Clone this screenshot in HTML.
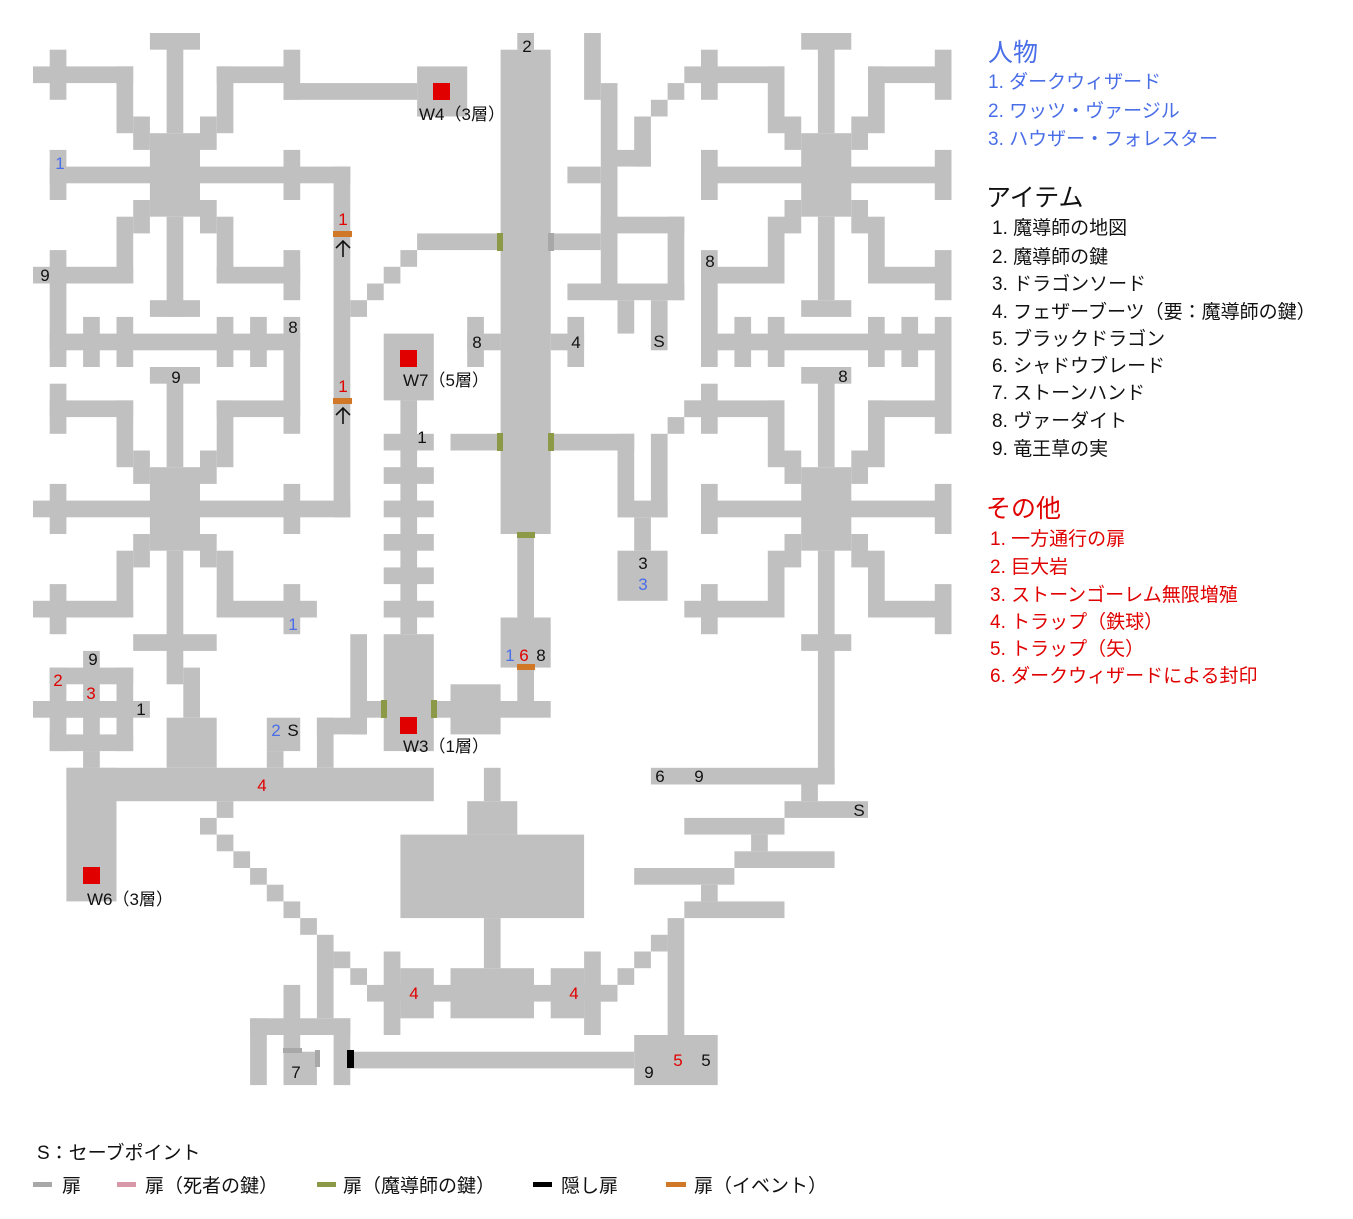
<!DOCTYPE html>
<html><head><meta charset="utf-8"><style>
html,body{margin:0;padding:0;background:#fff;}
svg{display:block;}
text{font-family:"Liberation Sans","Noto Sans CJK JP",sans-serif;}
</style></head><body>
<svg width="1353" height="1219" viewBox="0 0 1353 1219" xmlns="http://www.w3.org/2000/svg">
<rect width="1353" height="1219" fill="#fff"/>
<g transform="translate(33 33) scale(16.7)" fill="#c0c0c0">
<rect x="7" y="0" width="3" height="1"/><rect x="8" y="0" width="1" height="6"/><rect x="7" y="6" width="3" height="5"/>
<rect x="6" y="5" width="1" height="2"/><rect x="10" y="5" width="1" height="2"/>
<rect x="5" y="2" width="1" height="4"/><rect x="11" y="2" width="1" height="4"/>
<rect x="0" y="2" width="6" height="1"/><rect x="1" y="1" width="1" height="3"/>
<rect x="11" y="2" width="4" height="1"/><rect x="15" y="1" width="1" height="3"/>
<rect x="15" y="3" width="8" height="1"/><rect x="23" y="2" width="3" height="3"/>
<rect x="1" y="8" width="18" height="1"/><rect x="1" y="7" width="1" height="3"/><rect x="15" y="7" width="1" height="3"/>
<rect x="18" y="8" width="1" height="21"/>
<rect x="6" y="10" width="1" height="2"/><rect x="10" y="10" width="1" height="2"/>
<rect x="5" y="11" width="1" height="4"/><rect x="11" y="11" width="1" height="4"/>
<rect x="0" y="14" width="6" height="1"/><rect x="1" y="13" width="1" height="7"/>
<rect x="11" y="14" width="5" height="1"/><rect x="15" y="13" width="1" height="3"/>
<rect x="8" y="11" width="1" height="6"/><rect x="7" y="16" width="3" height="1"/>
<rect x="1" y="18" width="15" height="1"/><rect x="3" y="17" width="1" height="3"/><rect x="5" y="17" width="1" height="3"/>
<rect x="11" y="17" width="1" height="3"/><rect x="13" y="17" width="1" height="3"/><rect x="15" y="17" width="1" height="7"/>
<rect x="7" y="20" width="3" height="1"/><rect x="8" y="20" width="1" height="6"/>
<rect x="1" y="21" width="1" height="3"/><rect x="1" y="22" width="5" height="1"/><rect x="5" y="22" width="1" height="4"/>
<rect x="6" y="25" width="1" height="2"/><rect x="7" y="26" width="3" height="5"/><rect x="10" y="25" width="1" height="2"/>
<rect x="11" y="22" width="1" height="4"/><rect x="11" y="22" width="5" height="1"/>
<rect x="0" y="28" width="19" height="1"/><rect x="1" y="27" width="1" height="3"/><rect x="15" y="27" width="1" height="3"/>
<rect x="6" y="30" width="1" height="2"/><rect x="10" y="30" width="1" height="2"/>
<rect x="5" y="31" width="1" height="4"/><rect x="11" y="31" width="1" height="4"/>
<rect x="0" y="34" width="6" height="1"/><rect x="1" y="33" width="1" height="3"/>
<rect x="11" y="34" width="6" height="1"/><rect x="15" y="33" width="1" height="3"/>
<rect x="8" y="31" width="1" height="8"/><rect x="6" y="36" width="5" height="1"/>
<rect x="9" y="38" width="1" height="3"/><rect x="8" y="41" width="3" height="3"/>
<rect x="1" y="38" width="5" height="1"/><rect x="1" y="40" width="5" height="1"/><rect x="1" y="42" width="5" height="1"/>
<rect x="1" y="38" width="1" height="5"/><rect x="3" y="38" width="1" height="5"/><rect x="5" y="38" width="1" height="5"/>
<rect x="0" y="40" width="7" height="1"/><rect x="3" y="37" width="1" height="1"/><rect x="3" y="43" width="1" height="1"/>
<rect x="2" y="44" width="22" height="2"/><rect x="2" y="44" width="3" height="8"/>
<rect x="14" y="41" width="2" height="2"/><rect x="14" y="43" width="1" height="1"/>
<rect x="17" y="41" width="1" height="3"/><rect x="17" y="41" width="3" height="1"/><rect x="19" y="36" width="1" height="6"/><rect x="20" y="40" width="1" height="1"/>
<rect x="11" y="46" width="1" height="1"/><rect x="10" y="47" width="1" height="1"/><rect x="11" y="48" width="1" height="1"/>
<rect x="12" y="49" width="1" height="1"/><rect x="13" y="50" width="1" height="1"/><rect x="14" y="51" width="1" height="1"/>
<rect x="15" y="52" width="1" height="1"/><rect x="16" y="53" width="1" height="1"/><rect x="17" y="54" width="1" height="5"/>
<rect x="13" y="59" width="6" height="1"/><rect x="13" y="59" width="1" height="4"/><rect x="15" y="57" width="1" height="4"/>
<rect x="15" y="61" width="2" height="2"/><rect x="18" y="59" width="1" height="4"/>
<rect x="18" y="55" width="1" height="1"/><rect x="19" y="56" width="1" height="1"/><rect x="20" y="57" width="15" height="1"/>
<rect x="21" y="55" width="1" height="5"/><rect x="22" y="56" width="2" height="3"/>
<rect x="33" y="55" width="1" height="5"/><rect x="31" y="56" width="2" height="3"/>
<rect x="25" y="56" width="5" height="3"/><rect x="27" y="53" width="1" height="3"/><rect x="22" y="48" width="11" height="5"/>
<rect x="26" y="46" width="3" height="2"/><rect x="27" y="44" width="1" height="2"/>
<rect x="19" y="61" width="17" height="1"/><rect x="36" y="60" width="5" height="3"/>
<rect x="38" y="53" width="1" height="7"/><rect x="37" y="54" width="1" height="1"/><rect x="36" y="55" width="1" height="1"/>
<rect x="35" y="56" width="1" height="1"/><rect x="34" y="57" width="1" height="1"/>
<rect x="39" y="52" width="6" height="1"/><rect x="40" y="51" width="1" height="1"/><rect x="36" y="50" width="6" height="1"/>
<rect x="42" y="49" width="6" height="1"/><rect x="43" y="48" width="1" height="1"/><rect x="39" y="47" width="6" height="1"/>
<rect x="45" y="46" width="5" height="1"/><rect x="46" y="45" width="1" height="1"/><rect x="37" y="44" width="11" height="1"/>
<rect x="28" y="1" width="3" height="29"/><rect x="29" y="0" width="1" height="1"/>
<rect x="23" y="12" width="5" height="1"/><rect x="31" y="12" width="3" height="1"/>
<rect x="19" y="16" width="1" height="1"/><rect x="20" y="15" width="1" height="1"/><rect x="21" y="14" width="1" height="1"/><rect x="22" y="13" width="1" height="1"/>
<rect x="21" y="18" width="3" height="4"/><rect x="22" y="22" width="1" height="14"/>
<rect x="21" y="24" width="3" height="1"/><rect x="21" y="26" width="3" height="1"/><rect x="21" y="28" width="3" height="1"/>
<rect x="21" y="30" width="3" height="1"/><rect x="21" y="32" width="3" height="1"/><rect x="21" y="34" width="3" height="1"/>
<rect x="21" y="36" width="3" height="7"/>
<rect x="24" y="40" width="7" height="1"/><rect x="25" y="39" width="3" height="3"/><rect x="29" y="30" width="1" height="5"/>
<rect x="28" y="35" width="3" height="3"/><rect x="29" y="38" width="1" height="2"/>
<rect x="26" y="17" width="1" height="3"/><rect x="26" y="18" width="2" height="1"/><rect x="32" y="17" width="1" height="3"/><rect x="31" y="18" width="2" height="1"/>
<rect x="25" y="24" width="3" height="1"/><rect x="31" y="24" width="5" height="1"/><rect x="35" y="24" width="1" height="5"/>
<rect x="37" y="24" width="1" height="5"/><rect x="35" y="28" width="3" height="1"/><rect x="36" y="29" width="1" height="2"/><rect x="35" y="31" width="3" height="3"/>
<rect x="38" y="23" width="1" height="1"/><rect x="39" y="22" width="1" height="1"/>
<rect x="33" y="0" width="1" height="4"/><rect x="34" y="3" width="1" height="13"/><rect x="32" y="8" width="2" height="1"/>
<rect x="34" y="11" width="5" height="1"/><rect x="38" y="11" width="1" height="5"/><rect x="32" y="15" width="7" height="1"/>
<rect x="35" y="16" width="1" height="2"/><rect x="37" y="16" width="1" height="3"/>
<rect x="35" y="7" width="2" height="1"/><rect x="36" y="5" width="1" height="3"/><rect x="37" y="4" width="1" height="1"/><rect x="38" y="3" width="1" height="1"/>
<rect x="46" y="0" width="3" height="1"/><rect x="47" y="0" width="1" height="6"/><rect x="46" y="6" width="3" height="5"/>
<rect x="45" y="5" width="1" height="2"/><rect x="49" y="5" width="1" height="2"/>
<rect x="44" y="2" width="1" height="4"/><rect x="50" y="2" width="1" height="4"/>
<rect x="39" y="2" width="6" height="1"/><rect x="40" y="1" width="1" height="3"/>
<rect x="50" y="2" width="5" height="1"/><rect x="54" y="1" width="1" height="3"/>
<rect x="40" y="8" width="15" height="1"/><rect x="40" y="7" width="1" height="3"/><rect x="54" y="7" width="1" height="3"/>
<rect x="45" y="10" width="1" height="2"/><rect x="49" y="10" width="1" height="2"/>
<rect x="44" y="11" width="1" height="4"/><rect x="50" y="11" width="1" height="4"/>
<rect x="40" y="14" width="5" height="1"/><rect x="40" y="13" width="1" height="7"/>
<rect x="50" y="14" width="5" height="1"/><rect x="54" y="13" width="1" height="3"/>
<rect x="47" y="11" width="1" height="5"/><rect x="46" y="16" width="3" height="1"/>
<rect x="40" y="18" width="15" height="1"/><rect x="42" y="17" width="1" height="3"/><rect x="44" y="17" width="1" height="3"/>
<rect x="50" y="17" width="1" height="3"/><rect x="52" y="17" width="1" height="3"/><rect x="54" y="17" width="1" height="7"/>
<rect x="46" y="20" width="3" height="1"/><rect x="47" y="20" width="1" height="6"/>
<rect x="39" y="22" width="6" height="1"/><rect x="40" y="21" width="1" height="3"/><rect x="44" y="22" width="1" height="4"/>
<rect x="45" y="25" width="1" height="2"/><rect x="46" y="26" width="3" height="5"/><rect x="49" y="25" width="1" height="2"/>
<rect x="50" y="22" width="1" height="4"/><rect x="50" y="22" width="5" height="1"/>
<rect x="40" y="28" width="15" height="1"/><rect x="40" y="27" width="1" height="3"/><rect x="54" y="27" width="1" height="3"/>
<rect x="45" y="30" width="1" height="2"/><rect x="49" y="30" width="1" height="2"/>
<rect x="44" y="31" width="1" height="4"/><rect x="50" y="31" width="1" height="4"/>
<rect x="39" y="34" width="6" height="1"/><rect x="40" y="33" width="1" height="3"/>
<rect x="50" y="34" width="5" height="1"/><rect x="54" y="33" width="1" height="3"/>
<rect x="47" y="31" width="1" height="14"/><rect x="46" y="36" width="3" height="1"/>
</g>
<rect x="333" y="231" width="19" height="6" fill="#d07828"/>
<rect x="333" y="398" width="19" height="6" fill="#d07828"/>
<rect x="497" y="233" width="6" height="18" fill="#8c9a48"/>
<rect x="548" y="233" width="6" height="18" fill="#a8a8a8"/>
<rect x="497" y="433" width="6" height="18" fill="#8c9a48"/>
<rect x="548" y="433" width="6" height="18" fill="#8c9a48"/>
<rect x="517" y="532" width="18" height="6" fill="#8c9a48"/>
<rect x="517" y="664" width="18" height="6" fill="#d07828"/>
<rect x="381" y="700" width="6" height="18" fill="#8c9a48"/>
<rect x="431" y="700" width="6" height="18" fill="#8c9a48"/>
<rect x="347" y="1050" width="7" height="18" fill="#000"/>
<rect x="283" y="1048" width="19" height="5" fill="#a8a8a8"/>
<rect x="315" y="1050" width="5" height="17" fill="#a8a8a8"/>
<rect x="433" y="83" width="17" height="17" fill="#e00000"/>
<rect x="400" y="350" width="17" height="17" fill="#e00000"/>
<rect x="400" y="717" width="17" height="17" fill="#e00000"/>
<rect x="83" y="867" width="17" height="17" fill="#e00000"/>
<!-- arrows -->
<g stroke="#111" stroke-width="1.6" fill="none">
<path d="M343 241 V257 M336 248 L343 241 L350 248"/>
<path d="M343 408 V424 M336 415 L343 408 L350 415"/>
</g>
<g font-size="17" text-anchor="middle" fill="#111">
<text x="527" y="52">2</text>
<text x="462" y="120">W4（3層）</text>
<text x="60" y="169" fill="#4a6ee8">1</text>
<text x="343" y="225" fill="#e00000">1</text>
<text x="45" y="281">9</text>
<text x="293" y="333">8</text>
<text x="176" y="383">9</text>
<text x="343" y="392" fill="#e00000">1</text>
<text x="710" y="267">8</text>
<text x="477" y="348">8</text>
<text x="576" y="348">4</text>
<text x="659" y="347">S</text>
<text x="843" y="382">8</text>
<text x="446" y="386">W7（5層）</text>
<text x="422" y="443">1</text>
<text x="643" y="569">3</text>
<text x="643" y="590" fill="#4a6ee8">3</text>
<text x="293" y="630" fill="#4a6ee8">1</text>
<text x="510" y="661" fill="#4a6ee8">1</text>
<text x="524" y="661" fill="#e00000">6</text>
<text x="541" y="661">8</text>
<text x="93" y="665">9</text>
<text x="58" y="686" fill="#e00000">2</text>
<text x="91" y="699" fill="#e00000">3</text>
<text x="141" y="715">1</text>
<text x="276" y="736" fill="#4a6ee8">2</text>
<text x="293" y="736">S</text>
<text x="446" y="752">W3（1層）</text>
<text x="262" y="791" fill="#e00000">4</text>
<text x="660" y="782">6</text>
<text x="699" y="782">9</text>
<text x="859" y="816">S</text>
<text x="130" y="905">W6（3層）</text>
<text x="414" y="999" fill="#e00000">4</text>
<text x="574" y="999" fill="#e00000">4</text>
<text x="296" y="1078">7</text>
<text x="649" y="1078">9</text>
<text x="678" y="1066" fill="#e00000">5</text>
<text x="706" y="1066">5</text>
</g>
<g font-size="19">
<text x="988" y="61" font-size="25" fill="#4a6ee8">人物</text>
<text x="988" y="88" fill="#4a6ee8">1. ダークウィザード</text>
<text x="988" y="117" fill="#4a6ee8">2. ワッツ・ヴァージル</text>
<text x="988" y="145" fill="#4a6ee8">3. ハウザー・フォレスター</text>
<text x="986" y="206" font-size="25" fill="#111">アイテム</text>
<g fill="#111">
<text x="992" y="234">1. 魔導師の地図</text>
<text x="992" y="263">2. 魔導師の鍵</text>
<text x="992" y="290">3. ドラゴンソード</text>
<text x="992" y="318">4. フェザーブーツ（要：魔導師の鍵）</text>
<text x="992" y="345">5. ブラックドラゴン</text>
<text x="992" y="372">6. シャドウブレード</text>
<text x="992" y="399">7. ストーンハンド</text>
<text x="992" y="427">8. ヴァーダイト</text>
<text x="992" y="455">9. 竜王草の実</text>
</g>
<text x="986" y="517" font-size="25" fill="#e00000">その他</text>
<g fill="#e00000">
<text x="990" y="545">1. 一方通行の扉</text>
<text x="990" y="573">2. 巨大岩</text>
<text x="990" y="601">3. ストーンゴーレム無限増殖</text>
<text x="990" y="628">4. トラップ（鉄球）</text>
<text x="990" y="655">5. トラップ（矢）</text>
<text x="990" y="682">6. ダークウィザードによる封印</text>
</g>
</g>
<g font-size="19" fill="#111">
<text x="37" y="1159">S：セーブポイント</text>
<rect x="33" y="1182" width="19" height="5" fill="#a8a8a8"/><text x="62" y="1192">扉</text>
<rect x="117" y="1182" width="19" height="5" fill="#d898a8"/><text x="145" y="1192">扉（死者の鍵）</text>
<rect x="317" y="1182" width="19" height="5" fill="#8c9a48"/><text x="343" y="1192">扉（魔導師の鍵）</text>
<rect x="533" y="1182" width="19" height="5" fill="#000"/><text x="561" y="1192">隠し扉</text>
<rect x="666" y="1182" width="20" height="5" fill="#d07828"/><text x="694" y="1192">扉（イベント）</text>
</g>
</svg>
</body></html>
